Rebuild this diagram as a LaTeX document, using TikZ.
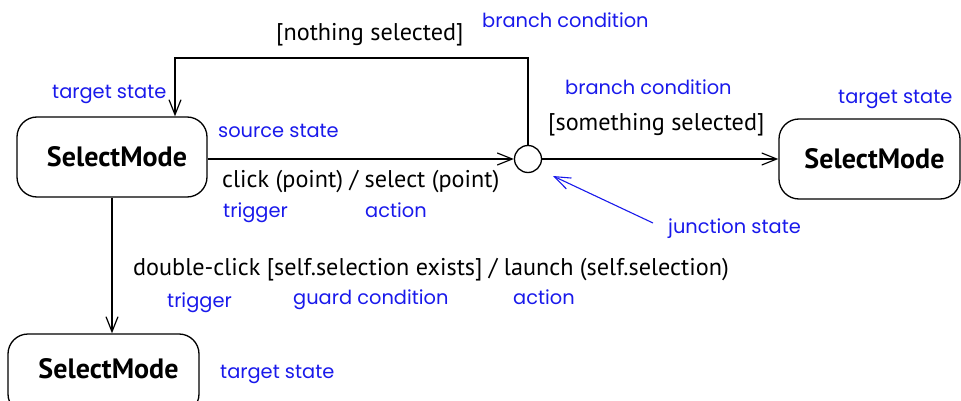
\documentclass[tikz,border=0pt]{standalone}
\usepackage{fontspec}
\setmainfont{PT Sans}
\newfontfamily\bluefont{Poppins}
\usetikzlibrary{arrows.meta}
\definecolor{noteblue}{RGB}{25,25,235}
\begin{document}
\begin{tikzpicture}[x=1pt,y=-1pt,
  statebox/.style={draw, rounded corners=20pt, line width=1.3pt,
    font=\bfseries\fontsize{28}{32}\selectfont, inner sep=0pt, minimum height=80pt},
  junc/.style={draw, circle, line width=1.3pt, minimum size=27pt, inner sep=0pt},
  lbl/.style={font=\fontsize{24.2}{28}\selectfont, text=black, inner sep=0pt, anchor=base west},
  note/.style={font=\bluefont\fontsize{19.4}{23}\selectfont, text=noteblue, inner sep=0pt, anchor=base west},
  conn/.style={line width=1.2pt, -{Straight Barb[length=15pt,width=12pt,line width=1.2pt]}},
  noteconn/.style={line width=1.1pt, draw=noteblue, -{Straight Barb[length=16pt,width=12pt,line width=1.1pt]}}
]
\useasboundingbox (0,0) rectangle (961,401);
\clip (0,0) rectangle (961,401);

% states
\node[statebox, minimum width=190pt] (b1) at (112,157) {\hspace*{10pt}SelectMode};
\node[statebox, minimum width=181pt] (b2) at (869.5,159) {\hspace*{10pt}SelectMode};
\node[statebox, minimum width=191pt, text depth=10pt] (b3) at (103.5,374) {\hspace*{10pt}SelectMode};
\node[junc] (j) at (528,159) {};

% connectors
\coordinate (loopTop) at (175,58);
\draw[conn] (b1.east |- j.west) -- (j.west);
\draw[conn] (j.east) -- (b2.west |- j.east);
\draw[conn] (j.north) |- (loopTop) -- (loopTop |- b1.north);
\draw[conn] (b1.south) -- (b1.south |- b3.north);
\coordinate (jsTail) at (653,223);
\coordinate (jsHead) at (553,176);
\draw[noteconn] (jsTail) -- (jsHead);

% black labels
\node[lbl] (tNothing) at (276,41) {[nothing selected]};
\node[lbl] (tClick) at (222,187) {click (point) / select (point)};
\node[lbl] (tSomething) at (548,131) {[something selected]};
\node[lbl] (tDouble) at (133,275) {double-click [self.selection exists] / launch (self.selection)};

% blue notes
\node[note] (nBranch1) at (482,28) {branch condition};
\node[note] (nTarget1) at (52,99) {target state};
\node[note] (nSource) at (218,138) {source state};
\node[note] (nTrig1) at (223,217) {trigger};
\node[note] (nAct1) at (365,217) {action};
\node[note] (nBranch2) at (565,95) {branch condition};
\node[note] (nTarget2) at (838,104) {target state};
\node[note] (nJunc) at (668,233) {junction state};
\node[note] (nTrig2) at (167,307) {trigger};
\node[note] (nGuard) at (293,304) {guard condition};
\node[note] (nAct2) at (513,304) {action};
\node[note] (nTarget3) at (220,378) {target state};
\end{tikzpicture}
\end{document}
